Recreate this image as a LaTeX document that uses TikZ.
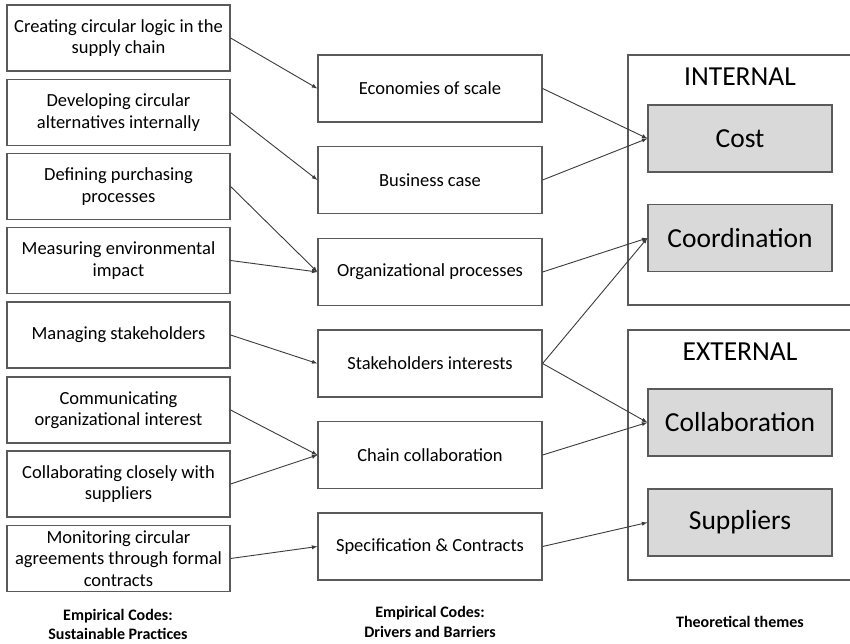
\documentclass[tikz,border=0pt]{standalone}
\usepackage{fontspec}
\setmainfont{Carlito}
\usepackage{tikz}
\usetikzlibrary{arrows,positioning}

\definecolor{edgegray}{HTML}{5A5A5A}
\definecolor{linegray}{HTML}{3A3A3A}
\definecolor{themefill}{HTML}{D9D9D9}

\begin{document}
\begin{tikzpicture}[
  x=1pt, y=-1pt,
  practice/.style={rectangle, draw=edgegray, line width=1.2pt, minimum width=223pt, minimum height=66pt, align=center, inner sep=1pt, font=\fontsize{18.5}{21.5}\selectfont},
  driver/.style={rectangle, draw=edgegray, line width=1.2pt, minimum width=224pt, minimum height=67pt, align=center, font=\fontsize{18.5}{21.5}\selectfont},
  theme/.style={rectangle, draw=edgegray, fill=themefill, line width=1.2pt, minimum width=184pt, minimum height=67pt, font=\fontsize{27.5}{31}\selectfont},
  grouplabel/.style={font=\fontsize{27.5}{31}\selectfont, inner sep=0pt},
  caption/.style={align=center, font=\bfseries\fontsize{16}{19.5}\selectfont, inner sep=0pt},
  link/.style={draw=linegray, line width=0.9pt, ->, >=latex}
]
\useasboundingbox (0,0) rectangle (850,644);

% empirical codes: sustainable practices
\node[practice] (p1) at (118.5,38) {Creating circular logic in the\\supply chain};
\node[practice] (p2) at (118.5,112.5) {Developing circular\\alternatives internally};
\node[practice] (p3) at (118.5,186.5) {Defining purchasing\\processes};
\node[practice] (p4) at (118.5,260.5) {Measuring environmental\\impact};
\node[practice] (p5) at (118.5,335) {Managing stakeholders};
\node[practice] (p6) at (118.5,410) {Communicating\\organizational interest};
\node[practice] (p7) at (118.5,484) {Collaborating closely with\\suppliers};
\node[practice] (p8) at (118.5,558.5) {Monitoring circular\\agreements through formal\\contracts};

% empirical codes: drivers and barriers
\node[driver] (d1) at (430,88.5) {Economies of scale};
\node[driver] (d2) at (430,180) {Business case};
\node[driver] (d3) at (430,272) {Organizational processes};
\node[driver] (d4) at (430,363.5) {Stakeholders interests};
\node[driver] (d5) at (430,455) {Chain collaboration};
\node[driver] (d6) at (430,546.5) {Specification \& Contracts};

% theoretical themes
\draw[edgegray, line width=1.2pt] (851,55) -- (628,55) -- (628,305) -- (851,305);
\draw[edgegray, line width=1.2pt] (851,330) -- (628,330) -- (628,580) -- (851,580);
\node[grouplabel] (internal) at (740,77) {INTERNAL};
\node[grouplabel] (external) at (740,352) {EXTERNAL};
\node[theme] (cost) at (740,138.5) {Cost};
\node[theme] (coord) at (740,238) {Coordination};
\node[theme] (collab) at (740,422.5) {Collaboration};
\node[theme] (suppl) at (740,522.5) {Suppliers};

% column captions
\node[caption] (capl) at (118,624.5) {Empirical Codes:\\Sustainable Practices};
\node[caption] (capm) at (430,622) {Empirical Codes:\\Drivers and Barriers};
\node[caption] (capr) at (740,622) {Theoretical themes};

% practices -> drivers
\draw[link] (p1.east) -- (d1.west);
\draw[link] (p2.east) -- (d2.west);
\draw[link] (p3.east) -- (d3.west);
\draw[link] (p4.east) -- (d3.west);
\draw[link] (p5.east) -- (d4.west);
\draw[link] (p6.east) -- (d5.west);
\draw[link] (p7.east) -- (d5.west);
\draw[link] (p8.east) -- (d6.west);

% drivers -> themes
\draw[link] (d1.east) -- (cost.west);
\draw[link] (d2.east) -- (cost.west);
\draw[link] (d3.east) -- (coord.west);
\draw[link] (d4.east) -- (coord.west);
\draw[link] (d4.east) -- (collab.west);
\draw[link] (d5.east) -- (collab.west);
\draw[link] (d6.east) -- (suppl.west);

\end{tikzpicture}
\end{document}
